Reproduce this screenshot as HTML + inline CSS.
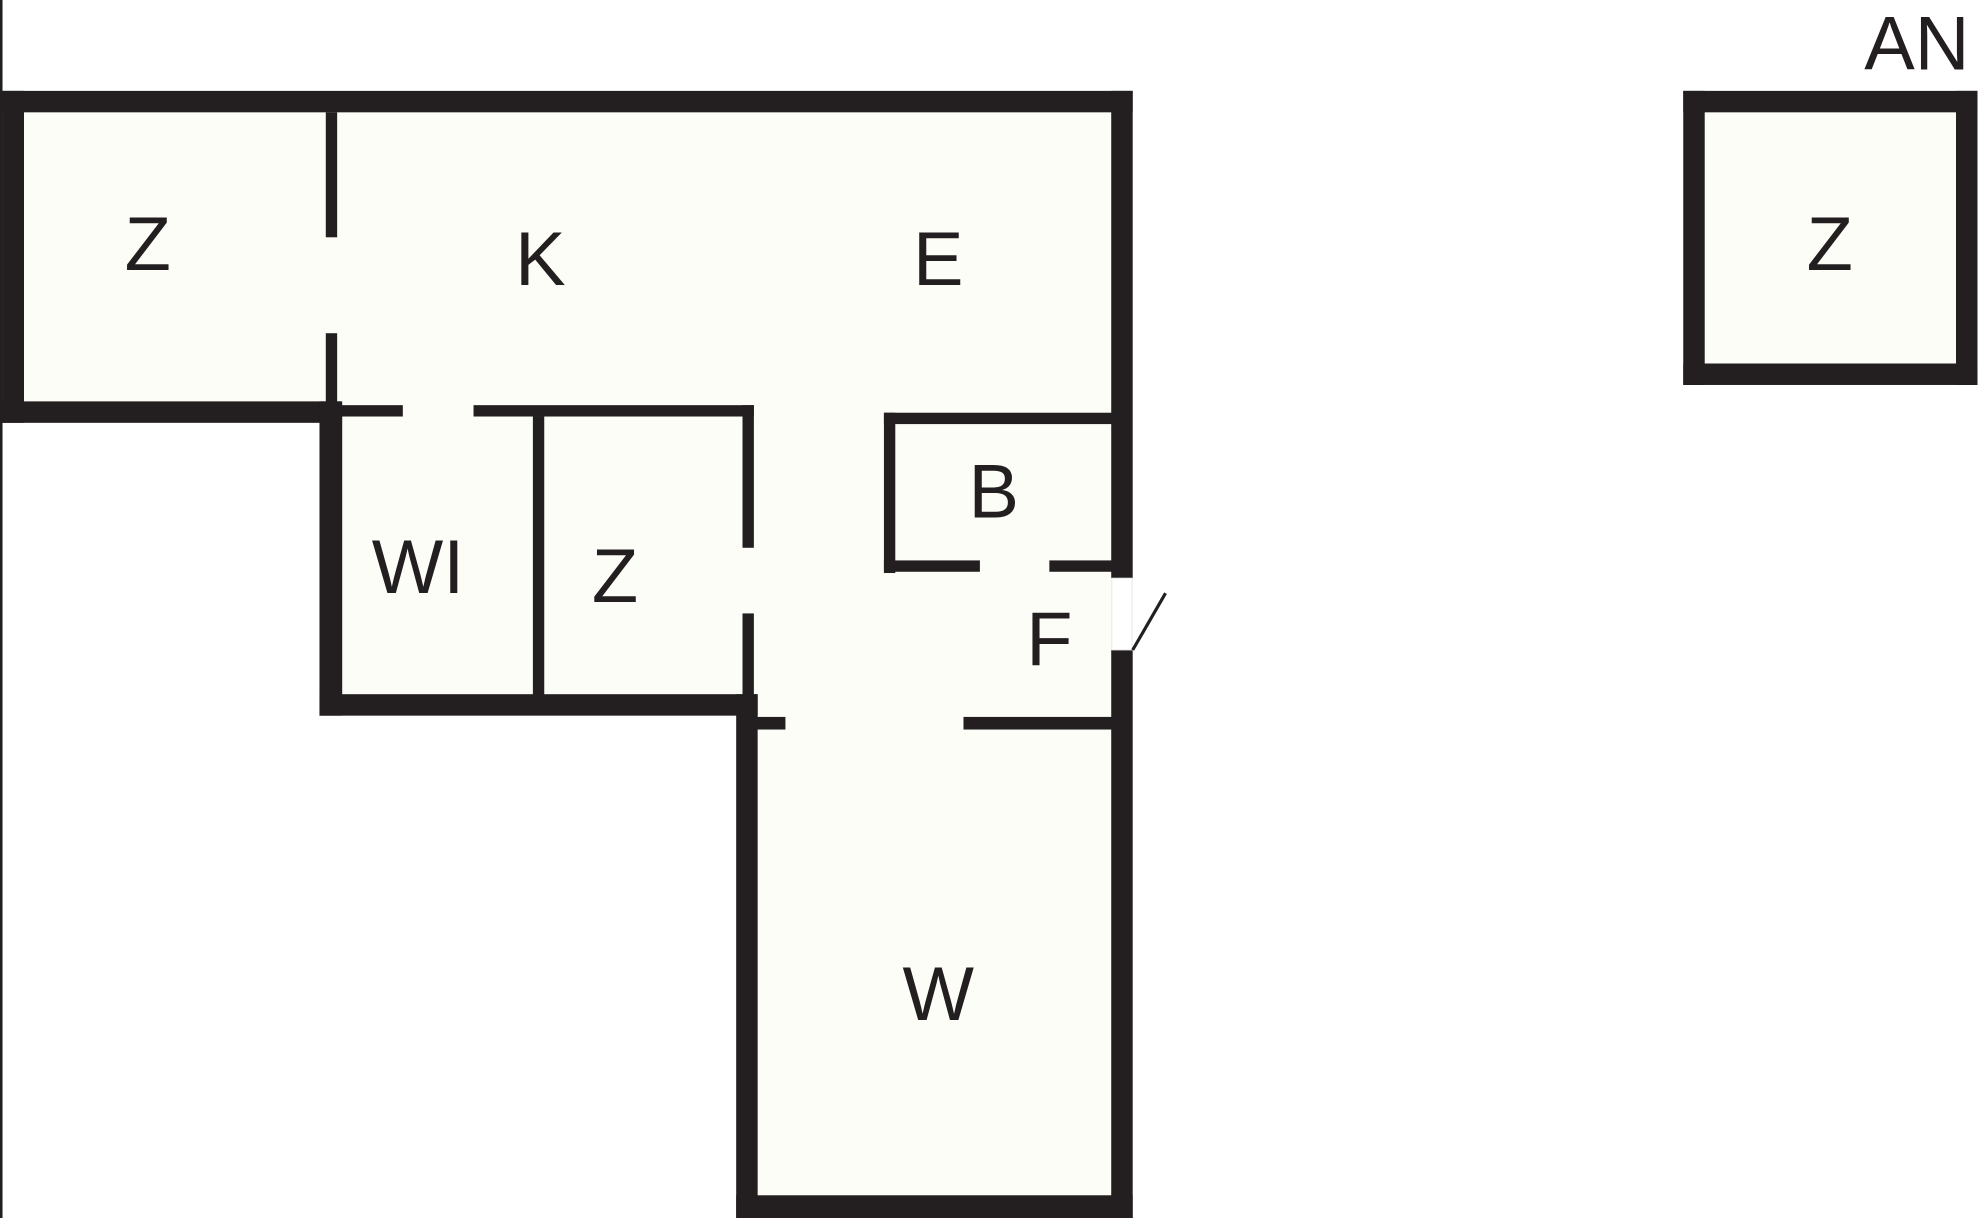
<!DOCTYPE html>
<html><head><meta charset="utf-8"><style>
html,body{margin:0;padding:0;background:#fff;}
svg{display:block;}
text{font-family:"Liberation Sans",sans-serif;font-size:60px;fill:#231f20;}
</style></head><body>
<svg width="1980" height="1218" viewBox="0 0 1568 965" preserveAspectRatio="none" xmlns="http://www.w3.org/2000/svg">
<rect x="0" y="0" width="1568" height="965" fill="#fff"/>
<g fill="#fdfdf8">
<rect x="2" y="72" width="895" height="263"/>
<rect x="253" y="318" width="644" height="249"/>
<rect x="583" y="550" width="314" height="415"/>
<rect x="1333" y="72" width="233" height="233"/>
</g>
<g fill="#231f20">
<rect x="0" y="0" width="2" height="965"/>
<rect x="2" y="72" width="895" height="17"/>
<rect x="2" y="72" width="17" height="263"/>
<rect x="2" y="318" width="268" height="17"/>
<rect x="880" y="72" width="17" height="386"/>
<rect x="880" y="515" width="17" height="450"/>
<rect x="583" y="947" width="314" height="18"/>
<rect x="583" y="550" width="17" height="415"/>
<rect x="253" y="318" width="18" height="249"/>
<rect x="253" y="550" width="347" height="17"/>
<rect x="258" y="89" width="9" height="99"/>
<rect x="258" y="264" width="9" height="56"/>
<rect x="270" y="321" width="49" height="9"/>
<rect x="375" y="321" width="222" height="9"/>
<rect x="588" y="321" width="9" height="113"/>
<rect x="588" y="486" width="9" height="66"/>
<rect x="422" y="330" width="9" height="222"/>
<rect x="700" y="327" width="182" height="9"/>
<rect x="700" y="327" width="9" height="127"/>
<rect x="700" y="444" width="76" height="9"/>
<rect x="831" y="444" width="51" height="9"/>
<rect x="596" y="568" width="26" height="10"/>
<rect x="763" y="568" width="119" height="10"/>
<rect x="1333" y="72" width="233" height="17"/>
<rect x="1333" y="288" width="233" height="17"/>
<rect x="1333" y="72" width="17" height="233"/>
<rect x="1549" y="72" width="17" height="233"/>
</g>
<rect x="880.5" y="458" width="16" height="57" fill="#fff" stroke="#ddd" stroke-width="0.6"/>
<line x1="897" y1="515" x2="923" y2="470" stroke="#231f20" stroke-width="2.5"/>
<text x="117" y="214" text-anchor="middle">Z</text>
<text x="428" y="226" text-anchor="middle">K</text>
<text x="743" y="226" text-anchor="middle">E</text>
<text x="787" y="410" text-anchor="middle">B</text>
<text x="331" y="470" text-anchor="middle">WI</text>
<text x="487" y="477" text-anchor="middle">Z</text>
<text x="831" y="527" text-anchor="middle">F</text>
<text x="743" y="808" text-anchor="middle">W</text>
<text x="1449" y="214" text-anchor="middle">Z</text>
<text x="1518" y="55" text-anchor="middle">AN</text>
</svg>
</body></html>
